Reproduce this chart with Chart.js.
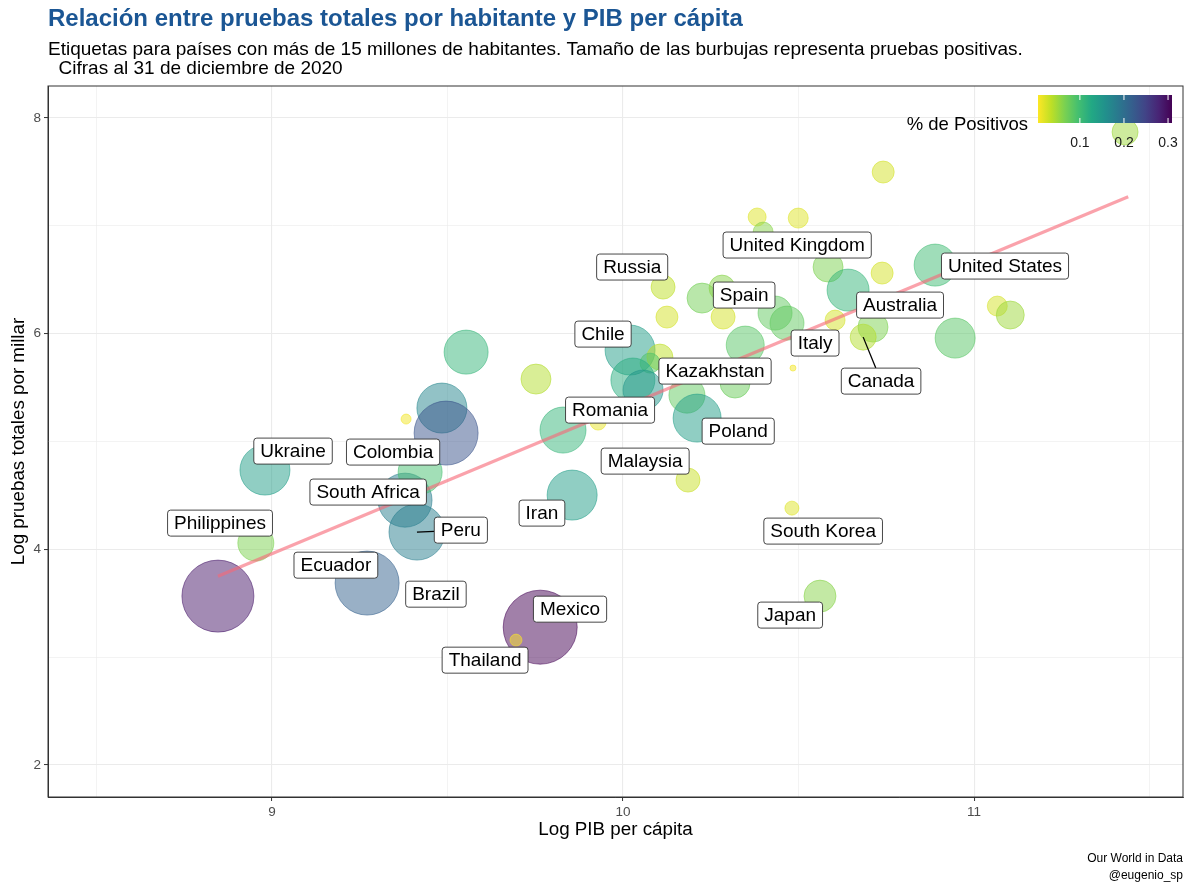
<!DOCTYPE html>
<html>
<head>
<meta charset="utf-8">
<script src="https://cdn.jsdelivr.net/npm/chart.js@4.4.1/dist/chart.umd.min.js"></script>
<style>
  body { margin: 0; background: #fff; }
  canvas { display: block; }
</style>
</head>
<body>
<canvas id="grafico" width="1200" height="886"></canvas>
<script>
// datos (log PIB per capita, log pruebas por millar)
const logPib = [8.846, 8.954, 8.980, 9.271, 9.379, 9.413, 9.422, 9.484, 9.496, 9.382,
  9.553, 9.752, 9.829, 9.855, 9.929, 9.764, 9.695, 10.020, 10.105, 10.077,
  10.028, 10.057, 10.182, 10.211, 10.319, 10.348, 10.185, 10.114, 10.125, 10.225,
  10.282, 10.285, 10.382, 10.499, 10.399, 10.584, 10.433, 10.467, 10.604, 10.641,
  10.484, 10.741, 10.738, 10.889, 10.712, 10.684, 10.946, 11.066, 11.103, 11.430,
  10.481, 10.561];
const logPruebas = [3.566, 4.058, 4.735, 3.687, 4.456, 4.160, 4.716, 5.310, 5.078, 5.208,
  5.829, 5.579, 5.106, 4.503, 5.180, 3.278, 3.158, 5.848, 5.783, 5.727,
  5.570, 5.477, 5.430, 5.217, 5.542, 5.894, 4.642, 6.432, 6.154, 6.330,
  6.423, 6.154, 7.082, 7.072, 6.942, 6.618, 6.191, 6.098, 6.126, 6.404,
  5.681, 7.499, 6.562, 6.636, 6.061, 5.968, 5.959, 6.256, 6.173, 7.870,
  4.382, 3.566];
// pruebas positivas (miles, aprox.)
const positivos = [1296, 324, 625, 1024, 729, 784, 484, 625, 1024, 25,
  484, 225, 529, 625, 64, 1369, 36, 625, 169, 100,
  484, 400, 324, 576, 225, 361, 144, 144, 121, 225,
  169, 144, 81, 100, 100, 225, 289, 289, 100, 441,
  9, 121, 121, 441, 225, 169, 400, 100, 196, 169,
  49, 256];
// % de positivos
const tasaPositivos = [0.29, 0.065, 0.14, 0.215, 0.18, 0.18, 0.095, 0.17, 0.23, 0.01,
  0.11, 0.04, 0.11, 0.14, 0.015, 0.309, 0.005, 0.14, 0.035, 0.09,
  0.12, 0.15, 0.08, 0.14, 0.075, 0.085, 0.03, 0.035, 0.025, 0.07,
  0.06, 0.025, 0.02, 0.02, 0.06, 0.065, 0.08, 0.08, 0.025, 0.11,
  0.01, 0.025, 0.025, 0.10, 0.065, 0.04, 0.085, 0.025, 0.05, 0.05,
  0.02, 0.06];

const tendenciaX = [8.846, 11.439];
const tendenciaY = [3.75, 7.27];

const xTicks = [8.5, 9, 9.5, 10, 10.5, 11, 11.5];
const yTicks = [2, 3, 4, 5, 6, 7, 8];
const leyendaTicks = [0.1, 0.2, 0.3];

// etiquetas (posicion del recuadro en unidades de los ejes)
const etiquetas = [
  { txt: 'Ukraine', x: 9.060, y: 4.911 },
  { txt: 'Colombia', x: 9.345, y: 4.902 },
  { txt: 'South Africa', x: 9.274, y: 4.531 },
  { txt: 'Philippines', x: 8.852, y: 4.243 },
  { txt: 'Peru', x: 9.538, y: 4.178, punto: 5 },
  { txt: 'Ecuador', x: 9.182, y: 3.853 },
  { txt: 'Brazil', x: 9.467, y: 3.584 },
  { txt: 'Thailand', x: 9.607, y: 2.972 },
  { txt: 'Mexico', x: 9.849, y: 3.445 },
  { txt: 'Japan', x: 10.476, y: 3.390 },
  { txt: 'Chile', x: 9.943, y: 5.996 },
  { txt: 'Kazakhstan', x: 10.262, y: 5.653 },
  { txt: 'Romania', x: 9.963, y: 5.291 },
  { txt: 'Poland', x: 10.328, y: 5.096 },
  { txt: 'Malaysia', x: 10.063, y: 4.818 },
  { txt: 'Iran', x: 9.769, y: 4.336 },
  { txt: 'United Kingdom', x: 10.496, y: 6.822 },
  { txt: 'Russia', x: 10.026, y: 6.618 },
  { txt: 'Spain', x: 10.345, y: 6.358 },
  { txt: 'Australia', x: 10.789, y: 6.265 },
  { txt: 'Italy', x: 10.547, y: 5.913 },
  { txt: 'Canada', x: 10.735, y: 5.560, punto: 45 },
  { txt: 'United States', x: 11.088, y: 6.627 },
  { txt: 'South Korea', x: 10.570, y: 4.169 }
];

const fuente = '"Liberation Sans", Arial, sans-serif';
const viridis = ['#440154', '#482475', '#414487', '#355F8D', '#2A788E', '#21918C',
  '#22A884', '#44BF70', '#7AD151', '#BDDF26', '#FDE725'];
const tasaMin = Math.min(...tasaPositivos);
const tasaMax = Math.max(...tasaPositivos);

function hexRgb(h) {
  return [parseInt(h.slice(1, 3), 16), parseInt(h.slice(3, 5), 16), parseInt(h.slice(5, 7), 16)];
}

function colorTasa(t, alpha) {
  // escala viridis invertida: poco positivo = amarillo
  const p = (1 - (t - tasaMin) / (tasaMax - tasaMin)) * 10;
  const i = Math.min(9, Math.floor(p));
  const f = p - i;
  const a = hexRgb(viridis[i]), b = hexRgb(viridis[i + 1]);
  const c = a.map((v, k) => Math.round(v + (b[k] - v) * f));
  return 'rgba(' + c.join(',') + ',' + alpha + ')';
}

const burbujas = logPib.map((v, i) => ({ x: v, y: logPruebas[i], r: Math.sqrt(positivos[i]) }));
const tendencia = tendenciaX.map((v, i) => ({ x: v, y: tendenciaY[i] }));

const textosPlugin = {
  id: 'textos',
  afterDraw(chart) {
    const ctx = chart.ctx;
    ctx.save();
    ctx.textBaseline = 'alphabetic';
    ctx.fillStyle = '#1b5694';
    ctx.font = 'bold 24px ' + fuente;
    ctx.fillText('Relación entre pruebas totales por habitante y PIB per cápita', 48, 26);
    ctx.fillStyle = '#000';
    ctx.font = '19px ' + fuente;
    ctx.fillText('Etiquetas para países con más de 15 millones de habitantes. Tamaño de las burbujas representa pruebas positivas.', 48, 55);
    ctx.fillText('  Cifras al 31 de diciembre de 2020', 48, 74);

    ctx.font = '12px ' + fuente;
    ctx.textAlign = 'right';
    ctx.fillText('Our World in Data', 1183, 862);
    ctx.fillText('@eugenio_sp', 1183, 879);

    // leyenda de color
    const x0 = 1038, x1 = 1172, y0 = 95, y1 = 123;
    ctx.font = '18.5px ' + fuente;
    ctx.fillText('% de Positivos', 1028, 130);
    const g = ctx.createLinearGradient(x0, 0, x1, 0);
    for (let i = 0; i <= 10; i++) g.addColorStop(i / 10, viridis[10 - i]);
    ctx.fillStyle = g;
    ctx.fillRect(x0, y0, x1 - x0, y1 - y0);
    ctx.textAlign = 'center';
    ctx.font = '14px ' + fuente;
    ctx.strokeStyle = '#fff';
    ctx.lineWidth = 1;
    leyendaTicks.forEach(t => {
      const px = x0 + (t - tasaMin) / (tasaMax - tasaMin) * (x1 - x0);
      ctx.beginPath();
      ctx.moveTo(px, y0); ctx.lineTo(px, y0 + 5);
      ctx.moveTo(px, y1 - 5); ctx.lineTo(px, y1);
      ctx.stroke();
      ctx.fillStyle = '#1a1a1a';
      ctx.fillText(t.toFixed(1), px, 147);
    });
    ctx.restore();
  }
};

const etiquetasPlugin = {
  id: 'etiquetas',
  afterDatasetsDraw(chart) {
    const { ctx, chartArea: a, scales: { x, y } } = chart;
    ctx.save();
    // borde del panel
    ctx.strokeStyle = '#333';
    ctx.lineWidth = 1;
    ctx.strokeRect(a.left, a.top, a.right - a.left, a.bottom - a.top);

    ctx.font = '19px ' + fuente;
    ctx.textAlign = 'center';
    ctx.textBaseline = 'middle';
    etiquetas.forEach(e => {
      const cx = x.getPixelForValue(e.x), cy = y.getPixelForValue(e.y);
      const w = ctx.measureText(e.txt).width + 13, h = 26;
      if (e.punto !== undefined) {
        const px = x.getPixelForValue(logPib[e.punto]);
        const py = y.getPixelForValue(logPruebas[e.punto]);
        const dx = cx - px, dy = cy - py;
        const s = Math.min(Math.abs((w / 2) / dx), Math.abs((h / 2) / dy));
        ctx.strokeStyle = '#000';
        ctx.lineWidth = 1.3;
        ctx.beginPath();
        ctx.moveTo(px, py);
        ctx.lineTo(cx - dx * s, cy - dy * s);
        ctx.stroke();
      }
      ctx.beginPath();
      ctx.roundRect(cx - w / 2, cy - h / 2, w, h, 3);
      ctx.fillStyle = '#fff';
      ctx.fill();
      ctx.strokeStyle = '#333';
      ctx.lineWidth = 0.9;
      ctx.stroke();
      ctx.fillStyle = '#000';
      ctx.fillText(e.txt, cx, cy + 1);
    });
    ctx.restore();
  }
};

function gridOpts(principales) {
  return {
    color: c => '#ebebeb',
    lineWidth: c => principales.includes(c.tick.value) ? 1.1 : 0.6,
    tickLength: 4,
    tickWidth: 1,
    tickColor: c => principales.includes(c.tick.value) ? '#333' : 'rgba(0,0,0,0)'
  };
}

const ctx = document.getElementById('grafico').getContext('2d');
const grafico = new Chart(ctx, {
  type: 'bubble',
  data: {
    datasets: [{
      type: 'line',
      data: tendencia,
      borderColor: 'rgba(247,105,120,0.62)',
      borderWidth: 3.2,
      pointRadius: 0,
      fill: false,
      order: 1
    }, {
      data: burbujas,
      backgroundColor: tasaPositivos.map(t => colorTasa(t, 0.5)),
      borderColor: tasaPositivos.map(t => colorTasa(t, 0.55)),
      borderWidth: 1,
      order: 2
    }]
  },
  options: {
    responsive: false,
    animation: false,
    devicePixelRatio: 1,
    layout: { autoPadding: false, padding: { top: 86, right: 17, bottom: 41, left: 2 } },
    plugins: { legend: { display: false }, tooltip: { enabled: false } },
    scales: {
      x: {
        type: 'linear',
        min: 8.362,
        max: 11.595,
        afterBuildTicks: s => { s.ticks = xTicks.map(v => ({ value: v })); },
        afterFit: s => { s.height = 48; s.paddingLeft = 0; s.paddingRight = 0; },
        ticks: {
          callback: v => Number.isInteger(v) ? v : '',
          font: { size: 13.5, family: fuente },
          color: '#4d4d4d',
          padding: 3,
          autoSkip: false,
          maxRotation: 0
        },
        grid: gridOpts([9, 10, 11]),
        border: { display: true, color: '#333', width: 1 },
        title: {
          display: true,
          text: 'Log PIB per cápita',
          font: { size: 18.8, family: fuente },
          color: '#000',
          padding: { top: 3, bottom: 4 }
        }
      },
      y: {
        type: 'linear',
        min: 1.703,
        max: 8.297,
        afterBuildTicks: s => { s.ticks = yTicks.map(v => ({ value: v })); },
        afterFit: s => { s.width = 46; s.paddingTop = 0; s.paddingBottom = 0; },
        ticks: {
          callback: v => v % 2 === 0 ? v : '',
          font: { size: 13.5, family: fuente },
          color: '#4d4d4d',
          padding: 3,
          autoSkip: false
        },
        grid: gridOpts([2, 4, 6, 8]),
        border: { display: true, color: '#333', width: 1 },
        title: {
          display: true,
          text: 'Log pruebas totales por millar',
          font: { size: 18.8, family: fuente },
          color: '#000',
          padding: { top: 6, bottom: 0 }
        }
      }
    }
  },
  plugins: [etiquetasPlugin, textosPlugin]
});
</script>
</body>
</html>
